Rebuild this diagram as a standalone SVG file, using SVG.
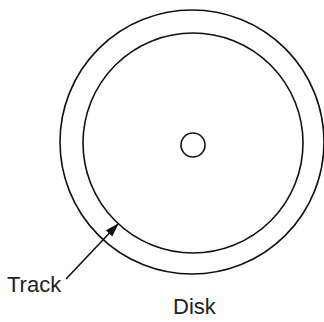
<svg xmlns="http://www.w3.org/2000/svg" width="324" height="322" viewBox="0 0 324 322">
<style>
.c{fill:none;stroke:#111;stroke-width:1.6}
.t{font-family:"Liberation Sans",Arial,sans-serif;font-size:22px;fill:#222}
</style>
<defs>
<marker id="ah" markerWidth="14" markerHeight="9" refX="13" refY="4.5" orient="auto" markerUnits="userSpaceOnUse">
<path d="M0,0 L14,4.5 L0,9 z" fill="#111"/>
</marker>
</defs>
<rect width="324" height="322" fill="#fff"/>
<g id="disk">
<circle class="c" cx="192" cy="142" r="132"/>
<circle class="c" cx="193" cy="143" r="110"/>
<circle class="c" cx="193" cy="145" r="12"/>
<text class="t" x="173" y="314">Disk</text>
</g>
<g id="track">
<text class="t" x="7" y="292">Track</text>
</g>
<g id="connectors">
<line x1="66" y1="279" x2="118" y2="224" stroke="#111" stroke-width="1.6" marker-end="url(#ah)"/>
</g>
</svg>
